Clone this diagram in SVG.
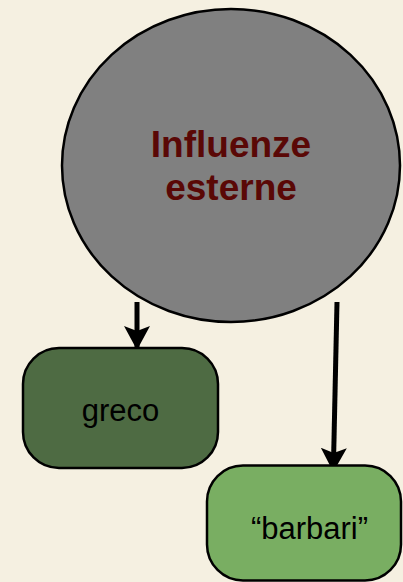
<svg xmlns="http://www.w3.org/2000/svg" width="403" height="582" viewBox="0 0 403 582">
<style>
.node{stroke:#000;stroke-width:2.5}
.lbl{font-family:"Liberation Sans",Arial,sans-serif;text-anchor:middle}
.conn{stroke:#000;stroke-width:5;fill:none}
</style>
<defs>
<marker id="ah" markerUnits="userSpaceOnUse" markerWidth="30" markerHeight="30" refX="24" refY="13" orient="auto">
<path d="M0,0 L24,13 L0,26 L5,13 Z" fill="#000"/>
</marker>
</defs>
<rect width="403" height="582" fill="#F5F0E1"/>
<g id="connectors">
<line class="conn" x1="137" y1="302" x2="137" y2="350" marker-end="url(#ah)"/>
<line class="conn" x1="337" y1="302" x2="333.3" y2="472" marker-end="url(#ah)"/>
</g>
<g id="influenze">
<ellipse class="node" cx="231" cy="165.5" rx="169" ry="156.5" fill="#808080"/>
<text class="lbl" x="231" y="157" font-size="37" font-weight="bold" fill="#5A0806">Influenze</text>
<text class="lbl" x="231" y="200" font-size="37" font-weight="bold" fill="#5A0806">esterne</text>
</g>
<g id="greco">
<rect class="node" x="23" y="348" width="195" height="120" rx="36" fill="#4E6B43"/>
<text class="lbl" x="120.5" y="420.5" font-size="31" fill="#000">greco</text>
</g>
<g id="barbari">
<rect class="node" x="207" y="465.5" width="194" height="115" rx="36" fill="#79AE62"/>
<text class="lbl" x="309.5" y="539" font-size="31" fill="#000">“barbari”</text>
</g>
</svg>
